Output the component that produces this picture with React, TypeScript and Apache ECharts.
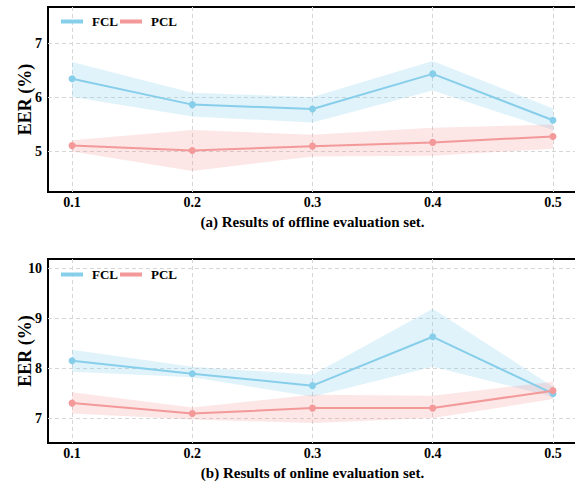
import React, { useEffect, useRef } from "react";
import * as echarts from "echarts";

const xValues = [0.1, 0.2, 0.3, 0.4, 0.5];
const xTicks = [0.1, 0.2, 0.3, 0.4, 0.5];

// (a) offline evaluation set
const offlineFCL = [6.34, 5.86, 5.78, 6.43, 5.57];
const offlineFCLUpper = [6.65, 6.08, 6.0, 6.67, 5.79];
const offlineFCLLower = [6.0, 5.64, 5.53, 6.12, 5.39];
const offlinePCL = [5.1, 5.01, 5.09, 5.16, 5.27];
const offlinePCLUpper = [5.2, 5.39, 5.3, 5.43, 5.49];
const offlinePCLLower = [4.99, 4.63, 4.9, 4.91, 5.04];
const offlineYTicks = [5, 6, 7];

// (b) online evaluation set
const onlineFCL = [8.15, 7.89, 7.65, 8.63, 7.49];
const onlineFCLUpper = [8.37, 8.03, 7.87, 9.19, 7.63];
const onlineFCLLower = [7.93, 7.82, 7.43, 8.03, 7.43];
const onlinePCL = [7.3, 7.09, 7.2, 7.2, 7.55];
const onlinePCLUpper = [7.52, 7.21, 7.47, 7.45, 7.73];
const onlinePCLLower = [7.09, 6.97, 6.9, 7.0, 7.38];
const onlineYTicks = [7, 8, 9, 10];

const FCL_COLOR = "#87CEEB";
const PCL_COLOR = "#F39999";
const FONT = "Liberation Serif";

function pairs(ys: number[]) {
  return ys.map((y, i) => [xValues[i], y]);
}

function bandSeries(name: string, idx: number, lower: number[], upper: number[], color: string, opacity: number) {
  return {
    name: name + " band",
    type: "custom",
    xAxisIndex: idx,
    yAxisIndex: idx,
    data: [[xValues[0], lower[0]]],
    silent: true,
    clip: true,
    z: 1,
    renderItem: (_params: any, api: any) => {
      const top = upper.map((u, i) => api.coord([xValues[i], u]));
      const bottom = lower.map((l, i) => api.coord([xValues[i], l])).reverse();
      return {
        type: "polygon",
        shape: { points: [...top, ...bottom] },
        style: { fill: color, opacity, stroke: "none" },
      };
    },
  };
}

function lineSeries(name: string, idx: number, values: number[], color: string) {
  return {
    name,
    type: "line",
    xAxisIndex: idx,
    yAxisIndex: idx,
    data: pairs(values),
    symbol: "circle",
    symbolSize: 7,
    itemStyle: { color },
    lineStyle: { color, width: 2 },
    z: 3,
  };
}

const splitLine = { show: true, lineStyle: { color: "#d6d6d6", type: [4, 3], width: 1 } };
const labelStyle = { fontFamily: FONT, fontWeight: "bold", fontSize: 14, color: "#000" };

function xAxis(idx: number, name: string) {
  return {
    type: "value",
    gridIndex: idx,
    min: 0.08,
    max: 0.52,
    name,
    nameLocation: "middle",
    nameGap: 22,
    nameMoveOverlap: false,
    nameTextStyle: { fontFamily: FONT, fontWeight: "bold", fontSize: 15, color: "#000" },
    axisLine: { show: false },
    axisTick: { show: false, customValues: xTicks },
    axisLabel: { ...labelStyle, margin: 3, customValues: xTicks, formatter: (v: number) => v.toFixed(1) },
    splitLine,
  };
}

function yAxis(idx: number, min: number, max: number, ticks: number[]) {
  return {
    type: "value",
    gridIndex: idx,
    min,
    max,
    name: "EER (%)",
    nameLocation: "middle",
    nameGap: 14,
    nameMoveOverlap: false,
    nameTextStyle: { fontFamily: FONT, fontWeight: "bold", fontSize: 18, color: "#000" },
    axisLine: { show: false },
    axisTick: { show: false, customValues: ticks },
    axisLabel: { ...labelStyle, margin: 6, customValues: ticks },
    splitLine,
  };
}

function legend(top: number) {
  return {
    left: 56,
    top,
    data: ["FCL", "PCL"],
    icon: "rect",
    itemWidth: 22,
    itemHeight: 4,
    itemGap: 2,
    textStyle: { fontFamily: FONT, fontWeight: "bold", fontSize: 13, color: "#000", padding: [0, 0, 0, 4] },
    selectedMode: false,
  };
}

export default function App() {
  const ref = useRef<HTMLDivElement>(null);
  useEffect(() => {
    if (!ref.current) return;
    const chart = echarts.init(ref.current, null, { renderer: "svg" });
    chart.setOption({
      animation: false,
      backgroundColor: "#fff",
      grid: [
        { left: 48, top: 7, width: 529, height: 185, outerBoundsMode: "none", containLabel: false, show: true, borderColor: "#000", borderWidth: 2, backgroundColor: "transparent" },
        { left: 48, top: 259, width: 529, height: 184, outerBoundsMode: "none", containLabel: false, show: true, borderColor: "#000", borderWidth: 2, backgroundColor: "transparent" },
      ],
      legend: [legend(10), legend(263)],
      xAxis: [xAxis(0, "(a) Results of offline evaluation set."), xAxis(1, "(b) Results of online evaluation set.")],
      yAxis: [yAxis(0, 4.24, 7.67, offlineYTicks), yAxis(1, 6.5, 10.19, onlineYTicks)],
      series: [
        bandSeries("FCL", 0, offlineFCLLower, offlineFCLUpper, FCL_COLOR, 0.25),
        bandSeries("PCL", 0, offlinePCLLower, offlinePCLUpper, "#F08080", 0.2),
        lineSeries("FCL", 0, offlineFCL, FCL_COLOR),
        lineSeries("PCL", 0, offlinePCL, PCL_COLOR),
        bandSeries("FCL", 1, onlineFCLLower, onlineFCLUpper, FCL_COLOR, 0.25),
        bandSeries("PCL", 1, onlinePCLLower, onlinePCLUpper, "#F08080", 0.2),
        lineSeries("FCL", 1, onlineFCL, FCL_COLOR),
        lineSeries("PCL", 1, onlinePCL, PCL_COLOR),
      ],
    });
    return () => chart.dispose();
  }, []);
  return (
    <div
      ref={ref}
      style={{ position: "fixed", left: 0, top: 0, width: 575, height: 484, background: "#fff" }}
    />
  );
}
